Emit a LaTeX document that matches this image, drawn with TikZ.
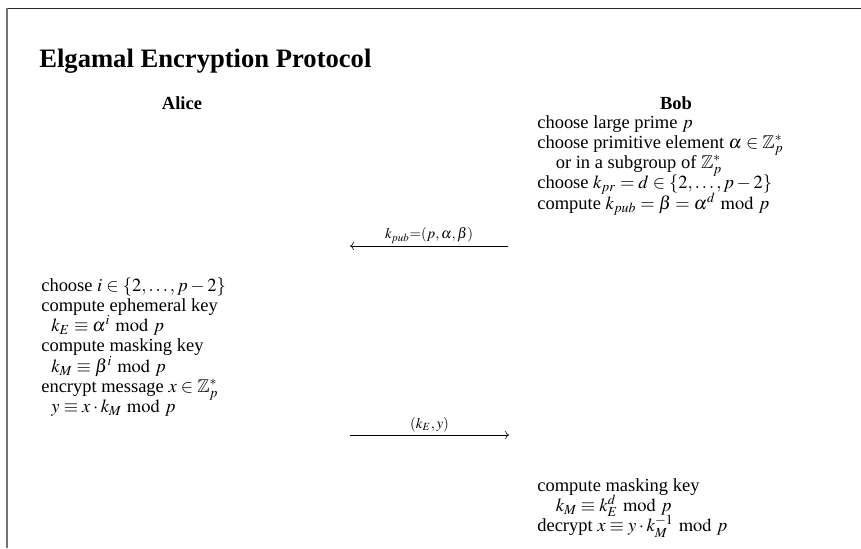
\documentclass[tikz,border=0pt]{standalone}
\usepackage{amsmath,amssymb}
\usepackage{mathptmx}
\usepackage{fontspec}
\setmainfont{Liberation Serif}
\usepackage{tikz}
\usetikzlibrary{arrows.meta,positioning}
\newcommand{\Zp}{\smash{\mathbb{Z}_p^*}}
\newcommand{\stepsblock}[1]{\begin{tabular}[t]{@{}l@{}}#1\end{tabular}}

\begin{document}
\begin{tikzpicture}[
  x=0.6494pt, y=-0.6494pt,
  font=\fontsize{12}{13.2}\selectfont,
  frameline/.style={line width=1pt},
  heading/.style={anchor=base west, inner sep=0pt, font=\fontsize{17.28}{20}\selectfont\bfseries},
  party/.style={anchor=base, inner sep=0pt, font=\fontsize{12}{13.2}\selectfont\bfseries},
  stepcol/.style={anchor=base west, inner sep=0pt},
  msg/.style={->, line width=0.4pt},
  msglabel/.style={above, inner sep=1.5pt, font=\fontsize{9.6}{11}\selectfont},
]
\useasboundingbox (0,0) rectangle (861,548);

% --- Frame (cut at right and bottom) ---
\draw[frameline, black!85] (7,8.5) -- (861,8.5);
\draw[frameline, black!55] (7,8.5) -- (7,548);

% --- Title and parties ---
\node[heading] (title) at (39,67) {Elgamal Encryption Protocol};
\node[party] (alice) at (182,109) {Alice};
\node[party] (bob) at (676,109) {Bob};

% --- Bob: key generation ---
\node[stepcol] (bobkeys) at (537,128) {\stepsblock{%
  choose large prime $p$\\
  choose primitive element $\alpha\in\Zp$\\
  \hspace*{1em}or in a subgroup of $\Zp$\\
  choose $k_{pr}=d\in\{2,\ldots,p-2\}$\\
  compute $\smash{k_{pub}=\beta=\alpha^d} \bmod p$}};

% --- Public key to Alice ---
\coordinate (pubR) at (508,246);
\coordinate (pubL) at (350,246);
\draw[msg] (pubR) -- node[msglabel] (pub) {$k_{pub}{=}(p,\alpha,\beta)$} (pubL);

% --- Alice: encryption ---
\node[stepcol] (aliceenc) at (41,291) {\stepsblock{%
  choose $i\in\{2,\ldots,p-2\}$\\
  compute ephemeral key\\
  \hspace*{0.55em}$k_E\equiv\smash{\alpha^i} \bmod p$\\
  compute masking key\\
  \hspace*{0.55em}$k_M\equiv\smash{\beta^i} \bmod p$\\
  encrypt message $x\in\Zp$\\
  \hspace*{0.55em}$y\equiv x\cdot k_M \bmod p$}};

% --- Ciphertext to Bob ---
\coordinate (ctL) at (350,435);
\coordinate (ctR) at (509,435);
\draw[msg] (ctL) -- node[msglabel] (ct) {$(k_E,y)$} (ctR);

% --- Bob: decryption ---
\node[stepcol] (bobdec) at (537,491) {\stepsblock{%
  compute masking key\\
  \hspace*{1em}$k_M\equiv \smash{k_E^d} \bmod p$\\
  decrypt $x\equiv y\cdot \smash{k_M^{-1}} \bmod p$}};
\end{tikzpicture}
\end{document}
